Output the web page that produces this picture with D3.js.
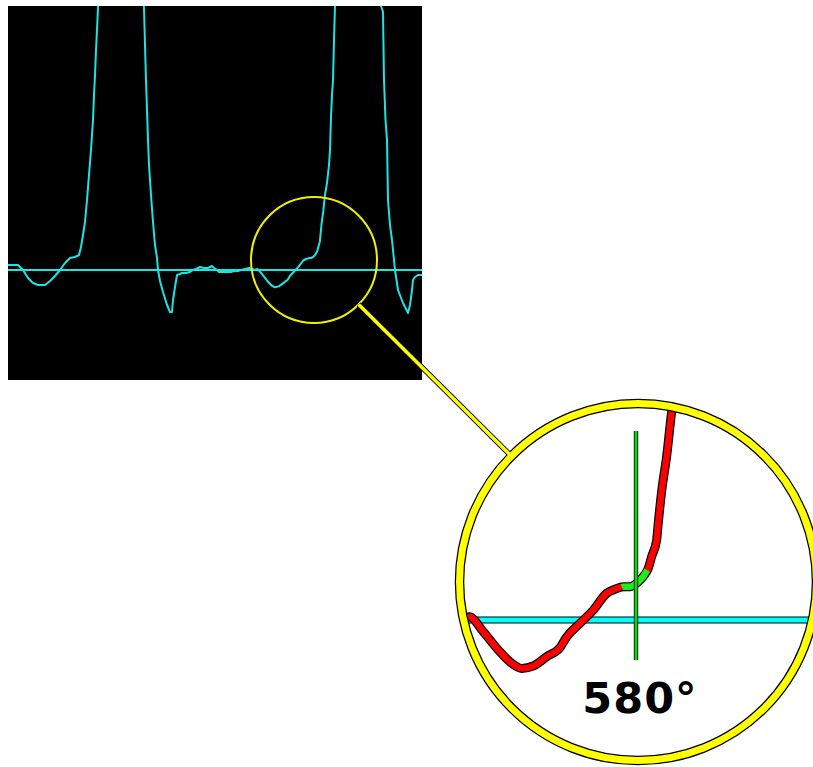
<!DOCTYPE html>
<html>
<head>
<meta charset="utf-8">
<script src="https://cdn.jsdelivr.net/npm/d3@7/dist/d3.min.js"></script>
<style>
  html, body { margin: 0; padding: 0; background: #fff; }
  svg { display: block; }
</style>
</head>
<body>
<div id="chart"></div>
<script>
// Trace samples as [t, v]: t = sample position, v = amplitude above the baseline
const beat1 = [
  [0, 5], [10, 5], [12, 3], [15, 0], [20, -8], [25, -13], [30, -15], [37, -15],
  [42, -11], [47, -6], [52, 0], [57, 7], [62, 12], [67, 13], [71, 15], [73, 23],
  [75, 35], [77, 48], [79, 70], [81, 95], [83, 120], [85, 150], [86, 175], [87, 195],
  [88, 220], [89, 240], [90, 262], [113, 570], [136, 262], [137, 225], [138, 190],
  [139, 160], [140, 130], [141, 105], [143, 75], [145, 48], [147, 25], [149, 12],
  [150, 0], [152, -11], [155, -22], [159, -35], [162, -42], [164, -42], [165, -30],
  [167, -17], [169, -5]
];

const quiet = [
  [172, -4], [174, -3], [178, -3], [182, -2], [185, 0], [188, 1], [192, 3], [196, 2],
  [200, 2], [204, 4], [206, 2], [209, 0], [211, -2], [217, -2], [223, -2], [226, -1],
  [230, -1], [233, 0], [237, 1], [241, 2], [244, 1], [247, 0]
];

const beat2 = [
  [249.4, 1.2], [254.1, -4.2], [259.1, -10.7], [263.6, -15.5], [266.9, -17.3],
  [270.8, -16.4], [275.2, -13.1], [279.7, -9.8], [281.9, -6], [286.3, -1.2],
  [290.8, 3.6], [295.2, 9.5], [298, 11], [300.8, 11.9], [303, 11.9], [305.8, 13.7],
  [307.4, 15.5], [309.1, 18.5], [310.2, 22.6], [311.9, 28.6], [312.2, 32.1],
  [313.6, 46.4], [315.2, 58.3], [316.9, 74.4], [319, 87], [321, 105], [322, 120],
  [323, 153], [324, 175], [325, 190], [326, 230], [327, 264], [350, 570],
  [373, 264], [375, 258], [376, 190], [377.5, 150], [379, 130], [380, 70], [382, 45],
  [384, 30], [385.5, 15], [387, 0], [390, -20], [395, -33], [400, -43], [402, -35],
  [404, -20], [405, -10], [407, -7], [410, -5], [414, -5]
];

const trace = beat1.concat(quiet, beat2);

// cursor in the magnified view
const cursorT = 305;
const cursorSpan = [-14.3, 67.5];
const cursorLabel = '580°';
const highlightRange = [300.3, 308.7];

// lens centre in data units
const lensT = 306, lensV = 10;

const width = 813, height = 767;

const svg = d3.select('#chart')
  .append('svg')
  .attr('width', width)
  .attr('height', height);

// Scope scales
const x = d3.scaleLinear().domain([0, 414]).range([8, 422]);
const y = d3.scaleLinear().domain([-110, 264]).range([380, 6]);

// Magnified scales
const xZ = d3.scaleLinear().domain([267, 327]).range([522, 702]);
const yZ = d3.scaleLinear().domain([0, 60]).range([620, 452]);

const lens = { cx: x(lensT), cy: y(lensV), r: 63 };
const big = { cx: 638, cy: 582, r: 178.5 };

const defs = svg.append('defs');
defs.append('clipPath').attr('id', 'scope-clip')
  .append('rect')
  .attr('x', x(0)).attr('y', y(264))
  .attr('width', x(414) - x(0)).attr('height', y(-110) - y(264));
defs.append('clipPath').attr('id', 'zoom-clip')
  .append('circle')
  .attr('cx', big.cx).attr('cy', big.cy).attr('r', big.r);

// Scope background
svg.append('rect')
  .attr('x', x(0)).attr('y', y(264))
  .attr('width', x(414) - x(0)).attr('height', y(-110) - y(264))
  .attr('fill', '#000');

const scope = svg.append('g').attr('clip-path', 'url(#scope-clip)');

scope.append('line')
  .attr('x1', x(0)).attr('x2', x(414))
  .attr('y1', y(0)).attr('y2', y(0))
  .attr('stroke', '#1ee3e3')
  .attr('stroke-width', 2);

const line = d3.line().x(d => x(d[0])).y(d => y(d[1]));

scope.append('path')
  .datum(trace)
  .attr('d', line)
  .attr('fill', 'none')
  .attr('stroke', '#1ee3e3')
  .attr('stroke-width', 2)
  .attr('stroke-linejoin', 'round');

// Lens on the scope
svg.append('circle')
  .attr('cx', lens.cx).attr('cy', lens.cy).attr('r', lens.r)
  .attr('fill', 'none')
  .attr('stroke', '#f0f000')
  .attr('stroke-width', 2);

// Magnified view
svg.append('circle')
  .attr('cx', big.cx).attr('cy', big.cy).attr('r', big.r)
  .attr('fill', '#fff');

const zoomG = svg.append('g').attr('clip-path', 'url(#zoom-clip)');

// baseline
zoomG.append('line')
  .attr('x1', big.cx - big.r).attr('x2', big.cx + big.r)
  .attr('y1', yZ(0)).attr('y2', yZ(0))
  .attr('stroke', '#000').attr('stroke-width', 7);
zoomG.append('line')
  .attr('x1', big.cx - big.r).attr('x2', big.cx + big.r)
  .attr('y1', yZ(0)).attr('y2', yZ(0))
  .attr('stroke', '#00ffff').attr('stroke-width', 5);

const zLine = d3.line()
  .x(d => xZ(d[0]))
  .y(d => yZ(d[1]))
  .curve(d3.curveMonotoneX);

// slice of the trace between two t values, interpolated at the ends
function sliceTrace(a, b) {
  const at = t => {
    const i = d3.bisector(d => d[0]).left(trace, t);
    const p0 = trace[i - 1], p1 = trace[i];
    const k = (t - p0[0]) / (p1[0] - p0[0]);
    return [t, p0[1] + k * (p1[1] - p0[1])];
  };
  return [at(a)].concat(trace.filter(d => d[0] > a && d[0] < b), [at(b)]);
}

zoomG.append('path')
  .datum(trace)
  .attr('d', zLine)
  .attr('fill', 'none')
  .attr('stroke', '#000')
  .attr('stroke-width', 9)
  .attr('stroke-linejoin', 'round');
zoomG.append('path')
  .datum(trace)
  .attr('d', zLine)
  .attr('fill', 'none')
  .attr('stroke', '#ff0000')
  .attr('stroke-width', 6.5)
  .attr('stroke-linejoin', 'round');
zoomG.append('path')
  .datum(sliceTrace(highlightRange[0], highlightRange[1]))
  .attr('d', zLine)
  .attr('fill', 'none')
  .attr('stroke', '#19f019')
  .attr('stroke-width', 6.5)
  .attr('stroke-linejoin', 'round');

// cursor
zoomG.append('line')
  .attr('x1', xZ(cursorT)).attr('x2', xZ(cursorT))
  .attr('y1', yZ(cursorSpan[1])).attr('y2', yZ(cursorSpan[0]))
  .attr('stroke', '#0a3a0a').attr('stroke-width', 4.5);
zoomG.append('line')
  .attr('x1', xZ(cursorT)).attr('x2', xZ(cursorT))
  .attr('y1', yZ(cursorSpan[1])).attr('y2', yZ(cursorSpan[0]))
  .attr('stroke', '#1ec81e').attr('stroke-width', 2.5);

svg.append('text')
  .attr('x', 640)
  .attr('y', 713)
  .attr('text-anchor', 'middle')
  .attr('font-family', '"DejaVu Sans", Verdana, sans-serif')
  .attr('font-weight', 'bold')
  .attr('font-size', 43)
  .attr('letter-spacing', 1)
  .attr('fill', '#000')
  .text(cursorLabel);

// Connector and ring
const ang = Math.atan2(big.cy - lens.cy, big.cx - lens.cx);
const c0 = [lens.cx + lens.r * Math.cos(ang), lens.cy + lens.r * Math.sin(ang)];
const c1 = [big.cx - big.r * Math.cos(ang), big.cy - big.r * Math.sin(ang)];

svg.append('line')
  .attr('x1', c0[0]).attr('y1', c0[1]).attr('x2', c1[0]).attr('y2', c1[1])
  .attr('stroke', '#000').attr('stroke-width', 5.5);
svg.append('circle')
  .attr('cx', big.cx).attr('cy', big.cy).attr('r', big.r)
  .attr('fill', 'none').attr('stroke', '#000').attr('stroke-width', 9.5);
svg.append('line')
  .attr('x1', c0[0]).attr('y1', c0[1]).attr('x2', c1[0]).attr('y2', c1[1])
  .attr('stroke', '#ffff00').attr('stroke-width', 3.5);
svg.append('circle')
  .attr('cx', big.cx).attr('cy', big.cy).attr('r', big.r)
  .attr('fill', 'none').attr('stroke', '#ffff00').attr('stroke-width', 7);
</script>
</body>
</html>
